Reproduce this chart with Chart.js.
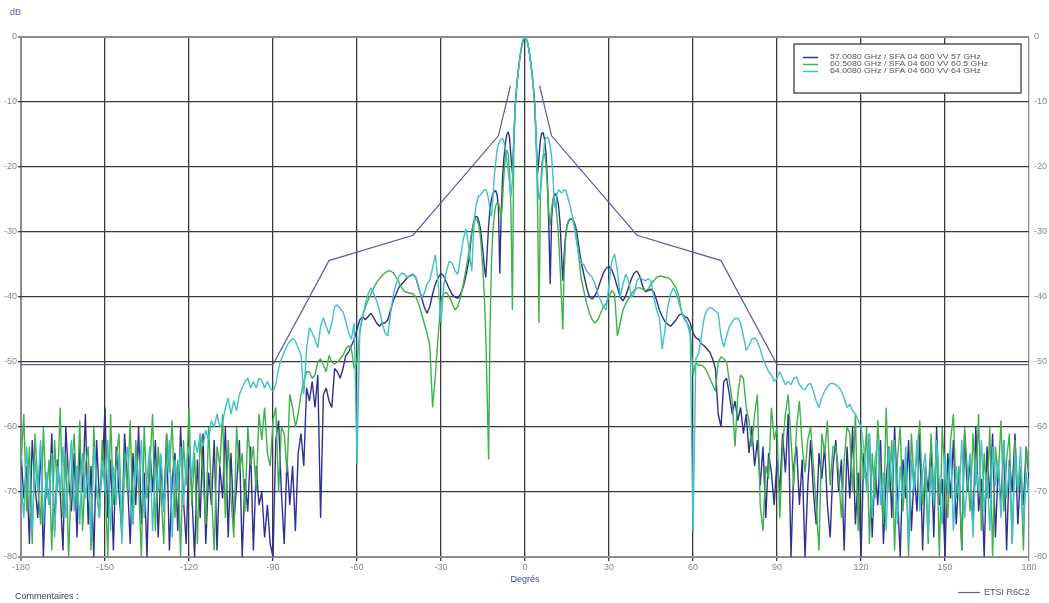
<!DOCTYPE html>
<html>
<head>
<meta charset="utf-8">
<title>Diagramme de rayonnement SFA 04 600 VV</title>
<script src="https://cdn.jsdelivr.net/npm/chart.js@4.4.0/dist/chart.umd.min.js"></script>
<style>
  html, body { margin: 0; padding: 0; background: #fff; }
  #wrap { width: 1049px; height: 603px; }
</style>
</head>
<body>
<div id="wrap"><canvas id="chart" width="1049" height="603"></canvas></div>
<script>
// axes
var xTicks = [-180, -150, -120, -90, -60, -30, 0, 30, 60, 90, 120, 150, 180];
var yTicks = [0, -10, -20, -30, -40, -50, -60, -70, -80];
var xTitle = 'Degrés';
var yUnit = 'dB';
var seriesLabels = [
    '57.0080 GHz / SFA 04 600 VV 57 GHz',
    '60.5080 GHz / SFA 04 600 VV 60.5 GHz',
    '64.0080 GHz / SFA 04 600 VV 64 GHz'
];
var etsiLabel = 'ETSI R6C2';
var commentLabel = 'Commentaires :';

// sampling grid of the measurement: 1 deg outside, 0.5 deg in the main beam
var anglesLeft = [];
for (var a = -180; a <= -21; a++) anglesLeft.push(a);
var anglesCenter = [];
for (var i = -40; i <= 40; i++) anglesCenter.push(i / 2);
var anglesRight = [];
for (var b = 21; b <= 180; b++) anglesRight.push(b);
var angles = anglesLeft.concat(anglesCenter, anglesRight);

// 57 GHz
var navyLeft = [
    -64,-71,-66,-78,-62,-69,-74,-63,-80,-67,
    -72,-61,-76,-65,-70,-79,-60,-68,-73,-64,
    -77,-63,-70,-58,-75,-66,-80,-62,-71,-67,
    -57,-74,-65,-79,-63,-70,-76,-61,-68,-78,
    -64,-72,-60,-75,-67,-80,-63,-70,-62,-77,
    -66,-73,-61,-79,-68,-64,-76,-60,-71,-78,
    -63,-70,-80,-65,-74,-61,-78,-67,-72,-62,
    -79,-66,-71,-60,-77,-64,-75,-69,-62,-80,
    -68,-73,-63,-79,-66,-72,-70,-77,-72,-78,
    -80,-62,-59,-70,-78,-65,-72,-66,-76,-64,
    -61,-66,-54,-56,-53,-57,-52,-74,-55,-54,
    -56,-57,-51,-51.5,-52.5,-51,-49,-48.5,-47.5,-46.5,
    -45,-43.5,-43,-43.5,-43,-42.5,-43.2,-44,-44.5,-44,
    -44,-43.5,-42,-40.5,-39.5,-38.5,-38,-37.5,-37,-36.7,
    -36.5,-37,-38.5,-40,-41.5,-42.5,-41.5,-39.5,-38,-37,
    -36.4,-36.8,-37.8,-38.8,-39.6,-40,-40.2,-39.5,-38.4,-36.5
];
var navyCenter = [
    -34.3,-32,-30,-28.8,-28,-27.6,-27.7,-28.3,-29.3,
    -31,-33,-35.5,-37,-33,-29,-26.5,-25,-24.2,-23.8,
    -23.6,-24.2,-26,-36.4,-27,-21.5,-18.5,-16.3,-15,-14.6,
    -15.5,-18.5,-21,-16,-10.5,-7.8,-5.6,-3.8,-2.2,-1,
    -0.3,0,
    -0.3,-1,-2.2,-3.8,-5.6,-7.8,-10.5,-16,-21,-18.5,
    -15.8,-14.8,-14.7,-15.8,-18,-22,-29,-38,-28,-25,
    -24.2,-24.2,-24.8,-26,-28.5,-33,-37.5,-33.5,-30.5,-29,
    -28.4,-28.1,-28,-28.1,-28.4,-29,-30,-31.5,-33,-34.5
];
var navyRight = [
    -36.5,-38.5,-40,-40.3,-39.8,-38.8,-37.5,-36.3,-35.6,-35.3,
    -35.8,-37,-38.5,-40,-40.6,-39.8,-38.5,-37.2,-36.3,-36,
    -36.8,-38.3,-39.2,-39,-38.8,-39.2,-40.5,-42,-43,-43.8,
    -44.2,-44.5,-44,-43.5,-42.8,-42.6,-43,-43.2,-44,-45.5,
    -46.3,-46.5,-47.2,-47.5,-48,-48.5,-49.5,-51,-58,-60,
    -53,-52.5,-55,-58,-56,-59,-57,-61,-58,-64,
    -60,-66,-62,-69,-63,-74,-64,-67,-72,-65,
    -70,-61,-67,-58,-80,-66,-63,-72,-65,-80,
    -69,-62,-70,-75,-64,-68,-63,-72,-77,-66,
    -62,-70,-65,-79,-63,-71,-60,-75,-67,-80,
    -64,-69,-61,-77,-66,-72,-62,-78,-68,-63,
    -74,-60,-70,-80,-65,-71,-62,-76,-67,-73,
    -61,-79,-66,-70,-63,-77,-60,-72,-68,-80,
    -64,-71,-62,-75,-67,-79,-61,-70,-65,-76,
    -60,-73,-68,-80,-63,-71,-61,-77,-66,-72,
    -62,-79,-65,-70,-61,-75,-67,-72,-63,-68
];

// 60.5 GHz
var greenLeft = [
    -66,-58,-73,-63,-78,-61,-69,-75,-60,-71,
    -65,-79,-62,-70,-57,-74,-64,-80,-67,-61,
    -72,-59,-76,-66,-63,-79,-60,-70,-74,-62,
    -68,-80,-58,-72,-65,-61,-77,-64,-70,-59,
    -75,-62,-69,-80,-60,-71,-66,-58,-76,-63,
    -70,-78,-61,-67,-59,-74,-65,-80,-62,-69,
    -57,-72,-64,-78,-61,-68,-75,-60,-70,-79,
    -63,-66,-58,-74,-62,-71,-77,-60,-67,-64,
    -73,-60,-66,-63,-70,-58,-62,-57,-64,-66,
    -59,-57,-70,-60,-61,-67,-55,-57,-60,-58,
    -55,-53,-51.5,-51.5,-52.5,-52,-50,-49.5,-50.5,-51.5,
    -49,-50,-50.3,-50,-49.5,-49,-48,-47.5,-48,-51,
    -50,-45.5,-43,-41.5,-40.5,-39.5,-38.6,-37.8,-37.2,-36.7,
    -36.3,-36,-36,-36.3,-37,-37.8,-38.6,-39.2,-39.3,-39.4,
    -39.5,-40,-41,-42.5,-44,-45.5,-47.5,-57,-52,-46,
    -40.5,-39.5,-39.3,-40,-41,-42,-41.5,-40,-38,-35.5
];
var greenCenter = [
    -33,-31.5,-30,-29,-28.3,-28,-28.2,-29,-30.5,
    -33,-36,-40,-46,-55,-65,-45,-35,-30,-27.5,
    -26,-25.5,-25.5,-26.5,-28,-25,-21,-18.5,-17.4,-18,
    -21,-27,-42,-17,-10.5,-7.8,-5.6,-3.8,-2.2,-1,
    -0.3,0,
    -0.3,-1,-2.2,-3.8,-5.6,-7.8,-10.5,-16,-26,-44,
    -24,-19.5,-18.2,-17.9,-19.5,-23,-27,-29,-26.5,-25,
    -25,-26,-28,-31,-35,-40,-45,-36,-31,-29,
    -28.3,-28,-27.9,-28.1,-28.6,-29.5,-31,-33,-35,-37
];
var greenRight = [
    -39,-41,-42.5,-43.5,-44,-43.5,-42.5,-41.5,-41,-40,
    -39,-39.5,-46,-44,-42,-41,-40.2,-39.5,-39,-38.6,
    -38.6,-38.8,-39,-38.8,-38,-37.5,-37,-36.8,-36.8,-37,
    -37,-37.3,-38,-38.6,-40,-42.5,-43.5,-44,-45,-52,
    -50,-50.5,-50.5,-50.8,-51.5,-52.5,-53.5,-54.5,-50,-49.2,
    -49.5,-50,-53,-56,-63,-55,-52,-52.5,-57,-59,
    -63,-58,-55,-72,-76,-66,-68,-57,-62,-60,
    -74,-63,-58,-55,-62,-69,-60,-56,-63,-67,
    -62,-60,-66,-72,-79,-61,-64,-59,-69,-63,
    -63,-67,-74,-65,-60,-61,-70,-58,-76,-62,
    -68,-60,-78,-64,-71,-59,-67,-75,-57,-70,
    -62,-79,-65,-60,-73,-66,-80,-61,-69,-64,
    -59,-72,-67,-78,-61,-70,-63,-80,-60,-68,
    -74,-62,-58,-71,-66,-79,-60,-67,-73,-61,
    -69,-58,-76,-64,-71,-60,-80,-63,-68,-59,
    -73,-65,-61,-78,-62,-70,-66,-79,-63,-67
];

// 64 GHz
var cyanLeft = [
    -68,-74,-63,-71,-76,-65,-70,-62,-75,-67,
    -72,-64,-77,-66,-70,-63,-74,-68,-62,-73,
    -66,-75,-64,-71,-67,-77,-63,-69,-74,-65,
    -70,-62,-76,-66,-72,-64,-78,-67,-63,-71,
    -75,-65,-69,-62,-74,-68,-63,-76,-66,-70,
    -64,-73,-67,-62,-77,-65,-70,-63,-72,-66,
    -63,-68,-62,-64,-61,-63,-60.5,-62,-59,-60,
    -58,-60,-59.4,-57,-55.5,-58,-56,-57.5,-55,-54,
    -53,-52.5,-54,-53,-54,-52.5,-52.8,-54,-53,-54,
    -54.5,-53.5,-51,-49.5,-48.5,-47.5,-46.8,-46.4,-46.8,-47.8,
    -49,-55,-48,-44.7,-45.5,-46.5,-47.8,-44.5,-43.2,-44.5,
    -45.7,-44,-41.5,-41.2,-41.8,-42.3,-43.7,-45.5,-46.5,-44,
    -65.7,-45,-43,-41,-39.5,-38.6,-39.5,-40.6,-42,-44,
    -45.5,-46,-42.5,-39.6,-38,-36.8,-36.3,-36.5,-37,-36.8,
    -36.5,-37,-38.5,-40,-39.5,-38,-37.5,-35.5,-33.5,-38,
    -44,-38,-35.9,-34.5,-34.8,-36,-36.5,-33.8,-31,-29.5
];
var cyanCenter = [
    -32.5,-34.5,-36,-31,-27.6,-26,-25,-24.5,-24.3,
    -24.1,-23.8,-23.5,-23.5,-24,-25,-26.5,-27.6,-25,-21.5,
    -19.5,-17.5,-16.5,-16,-15.7,-15.6,-16.2,-17.4,-19,-20.5,
    -22.5,-24.6,-22,-16,-10.5,-7.8,-5.6,-3.8,-2.2,-1,
    -0.3,0,
    -0.3,-1,-2.2,-3.8,-5.6,-7.8,-10.5,-16,-22,-25,
    -24,-21.5,-18.5,-16,-15.5,-15.4,-15.8,-16.8,-18.4,-21.5,
    -26,-26.5,-24,-23.5,-23.7,-24,-23.8,-23.5,-23.6,-24.2,
    -25,-25.8,-26.8,-27.8,-29,-30.5,-31.7,-33,-34,-34.8
];
var cyanRight = [
    -35,-36,-36.5,-37,-38,-39.5,-40.5,-41.5,-42,-38,
    -34.5,-33.4,-36,-40,-38,-36.5,-37.5,-40,-39.5,-37.5,
    -37,-37.3,-37.5,-37.2,-37.5,-40,-42,-43.2,-48,-45,
    -41.5,-39.5,-38.6,-39.5,-41,-42.3,-43.2,-44.2,-45.8,-76,
    -49.5,-48.7,-46,-43.2,-42,-41.6,-41.8,-42.2,-42.5,-46,
    -47.7,-46,-44.5,-43.8,-43.3,-43.3,-44,-46,-48.2,-47.5,
    -46.5,-46.3,-46.8,-48,-49.5,-50.5,-51.5,-52,-53,-52.5,
    -51.5,-52.5,-53.5,-53,-53.5,-52.5,-52.3,-53.5,-54,-54.3,
    -53.5,-53.3,-54.5,-56,-57,-55.5,-54.5,-53.8,-53.3,-53.3,
    -53.5,-53.8,-54.5,-55.5,-57,-56.5,-57.5,-58,-59,-60,
    -63,-70,-61,-74,-65,-62,-72,-67,-76,-63,
    -69,-62,-75,-66,-71,-63,-78,-65,-70,-62,
    -73,-67,-64,-77,-66,-72,-62,-69,-75,-64,
    -70,-63,-76,-66,-71,-62,-74,-68,-64,-77,
    -65,-70,-62,-73,-67,-76,-63,-69,-65,-74,
    -62,-71,-66,-78,-64,-70,-63,-75,-67,-71
];

// ETSI R6C2 envelope (two branches, gap around the main beam)
var etsiAngles = [-180, -90, -70, -40, -9.5, -5.2, null, 5.2, 9.5, 40, 70, 90, 180];
var etsiValues = [-50.4, -50.4, -34.4, -30.5, -15.2, -7.5, null, -7.5, -15.2, -30.5, -34.4, -50.4, -50.4];

var colors = ['#2e3190', '#3fb14a', '#40c0c8'];
var etsiColor = '#5c5aa8';
var tickColor = '#7d8a8e';
var fontFamily = '"Liberation Sans Narrow", "Liberation Sans", Arial, sans-serif';

var navy = navyLeft.concat(navyCenter, navyRight);
var green = greenLeft.concat(greenCenter, greenRight);
var cyan = cyanLeft.concat(cyanCenter, cyanRight);

var dataProblems = [];
[navy, green, cyan].forEach(function(s, k) {
    if (s.length != angles.length) dataProblems.push(seriesLabels[k] + ': ' + s.length + ' / ' + angles.length);
});

function toPoints(values) {
    var pts = [];
    for (var i = 0; i < values.length && i < angles.length; i++) {
        pts.push({x: angles[i], y: values[i]});
    }
    return pts;
}

function etsiPoints() {
    return etsiAngles.map(function(a, i) {
        return {x: a === null ? 0 : a, y: etsiValues[i]};
    });
}

function lineDataset(label, values, color, order) {
    return {
        label: label,
        data: toPoints(values),
        borderColor: color,
        backgroundColor: color,
        borderWidth: 1.4,
        pointRadius: 0,
        tension: 0,
        borderJoinStyle: 'bevel',
        order: order
    };
}

function gridColor(ctx) {
    var v = ctx.tick ? ctx.tick.value : null;
    if (v === -180 || v === 180 || v === 0 && ctx.scale.axis === 'y' || v === -80) return '#8e8e8e';
    return '#3a3a3a';
}

function gridWidth(ctx) {
    var v = ctx.tick ? ctx.tick.value : null;
    if (v === -180 || v === -80 || v === 0 && ctx.scale.axis === 'y') return 2;
    return 1.3;
}

// text squeezed vertically like the original print
function wideText(c, text, x, y, sx) {
    c.save();
    c.translate(x, y);
    c.scale(sx, 1);
    c.fillText(text, 0, 0);
    c.restore();
}

var extraText = {
    id: 'extraText',
    afterDraw: function(chart) {
        var c = chart.ctx;
        c.save();
        c.textBaseline = 'middle';

        c.font = '9px ' + fontFamily;
        c.fillStyle = '#5a5ac0';
        c.textAlign = 'left';
        c.fillText(yUnit, 10, 13);

        c.fillStyle = '#4646ae';
        c.textAlign = 'center';
        c.fillText(xTitle, chart.scales.x.getPixelForValue(0), 580);

        c.fillStyle = '#444';
        c.textAlign = 'left';
        c.fillText(commentLabel, 15, 597);

        // ETSI legend bottom right
        c.strokeStyle = etsiColor;
        c.lineWidth = 1.2;
        c.beginPath();
        c.moveTo(958, 592.5);
        c.lineTo(980, 592.5);
        c.stroke();
        c.fillStyle = '#555';
        c.fillText(etsiLabel, 984, 593);

        // series legend box
        var bx = 794, by = 44, bw = 227, bh = 49;
        c.fillStyle = '#fff';
        c.fillRect(bx, by, bw, bh);
        c.strokeStyle = '#555';
        c.lineWidth = 1.5;
        c.strokeRect(bx, by, bw, bh);
        c.font = '7px "Liberation Sans", Arial, sans-serif';
        for (var i = 0; i < seriesLabels.length; i++) {
            var ly = 57 + i * 7;
            c.strokeStyle = colors[i];
            c.lineWidth = 1.5;
            c.beginPath();
            c.moveTo(803, ly + 0.5);
            c.lineTo(818, ly + 0.5);
            c.stroke();
            c.fillStyle = '#555';
            wideText(c, seriesLabels[i], 830, ly + 0.5, 1.25);
        }

        if (dataProblems.length) {
            c.fillStyle = 'red';
            c.font = '12px sans-serif';
            c.fillText(dataProblems.join(' | '), 100, 20);
        }
        c.restore();
    }
};

var ctx = document.getElementById('chart').getContext('2d');
var chart = new Chart(ctx, {
    type: 'line',
    data: {
        datasets: [
            {
                label: etsiLabel,
                data: etsiPoints(),
                borderColor: etsiColor,
                borderWidth: 1.2,
                pointRadius: 0,
                tension: 0,
                spanGaps: false,
                order: 0
            },
            lineDataset(seriesLabels[2], cyan, colors[2], 1),
            lineDataset(seriesLabels[1], green, colors[1], 2),
            lineDataset(seriesLabels[0], navy, colors[0], 3)
        ]
    },
    options: {
        responsive: false,
        animation: false,
        layout: { padding: { top: 37, left: 0, right: 0, bottom: 0 } },
        plugins: {
            legend: { display: false },
            tooltip: { enabled: false }
        },
        scales: {
            x: {
                type: 'linear',
                min: -180,
                max: 180,
                afterBuildTicks: function(s) { s.ticks = xTicks.map(function(v) { return {value: v}; }); },
                afterFit: function(s) { s.height = 46; },
                border: { display: false },
                grid: { color: gridColor, lineWidth: gridWidth, tickLength: 4 },
                ticks: {
                    color: tickColor,
                    font: { size: 9, family: fontFamily },
                    padding: 1,
                    maxRotation: 0,
                    autoSkip: false
                }
            },
            y: {
                type: 'linear',
                position: 'left',
                min: -80,
                max: 0,
                afterBuildTicks: function(s) { s.ticks = yTicks.map(function(v) { return {value: v}; }); },
                afterFit: function(s) { s.width = 21; },
                border: { display: false },
                grid: { color: gridColor, lineWidth: gridWidth, tickLength: 3 },
                ticks: {
                    color: tickColor,
                    font: { size: 9, family: fontFamily },
                    padding: 1,
                    autoSkip: false
                }
            },
            y2: {
                type: 'linear',
                position: 'right',
                min: -80,
                max: 0,
                afterBuildTicks: function(s) { s.ticks = yTicks.map(function(v) { return {value: v}; }); },
                afterFit: function(s) { s.width = 20; },
                border: { display: false },
                grid: { display: false, drawTicks: false, tickLength: 0 },
                ticks: {
                    color: tickColor,
                    font: { size: 9, family: fontFamily },
                    padding: 5,
                    autoSkip: false
                }
            }
        }
    },
    plugins: [extraText]
});
</script>
</body>
</html>
